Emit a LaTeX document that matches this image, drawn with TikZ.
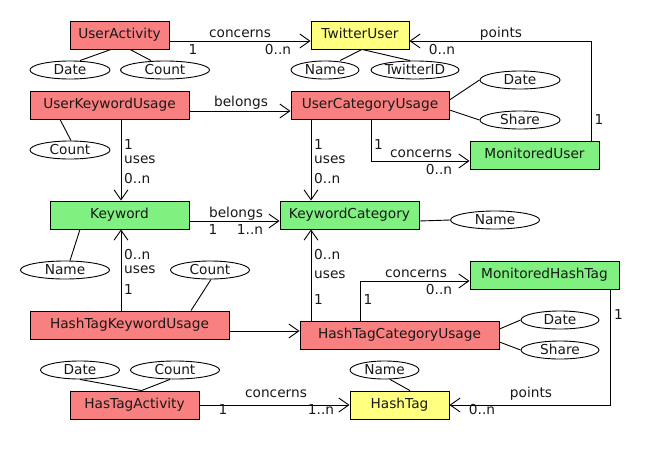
\documentclass[tikz,border=0pt]{standalone}
\usepackage{fontspec}
\setmainfont{DejaVu Sans}
\usetikzlibrary{arrows.meta,shapes.geometric}
\definecolor{entred}{RGB}{248,128,128}
\definecolor{entgreen}{RGB}{128,240,128}
\definecolor{entyellow}{RGB}{255,255,128}
\definecolor{txt}{RGB}{25,25,25}
\tikzset{
  ent/.style={draw=black, line width=0.9pt, rectangle, inner sep=0pt, minimum height=28pt, text height=10pt, text depth=2.5pt, text=txt},
  red/.style={ent, fill=entred},
  grn/.style={ent, fill=entgreen},
  yel/.style={ent, fill=entyellow},
  attr/.style={draw=black, line width=0.9pt, ellipse, inner sep=0pt, minimum height=18pt, text height=9.5pt, text depth=0pt, text=txt},
  lbl/.style={inner sep=0pt, anchor=base, text=txt},
  lblw/.style={inner sep=0pt, anchor=base west, text=txt},
  conn/.style={draw=black, line width=0.9pt, -{Straight Barb[length=10pt,width=14pt,line width=0.9pt]}},
  aline/.style={draw=black, line width=0.9pt}
}
\begin{document}
\begin{tikzpicture}[x=1pt,y=-1pt,font=\fontsize{13.7}{16}\selectfont]
\useasboundingbox (0,0) rectangle (650,450);
\fill[white] (0,0) rectangle (650,450);
% entities
\node[red, minimum width=99pt] (ua) at (119.5,35) {UserActivity};
\node[yel, minimum width=98pt] (tu) at (360,35) {TwitterUser};
\node[red, minimum width=159pt] (uku) at (109.5,105) {UserKeywordUsage};
\node[red, minimum width=158pt] (ucu) at (370,105) {UserCategoryUsage};
\node[grn, minimum width=129pt] (mu) at (534.5,155) {MonitoredUser};
\node[grn, minimum width=139pt] (kw) at (119.5,215) {Keyword};
\node[grn, minimum width=139pt] (kc) at (349.5,215) {KeywordCategory};
\node[grn, minimum width=149pt] (mht) at (544.5,275) {MonitoredHashTag};
\node[red, minimum width=199pt] (htku) at (129.5,325) {HashTagKeywordUsage};
\node[red, minimum width=199pt] (htcu) at (399.5,335) {HashTagCategoryUsage};
\node[red, minimum width=129pt] (hta) at (134.5,405) {HasTagActivity};
\node[yel, minimum width=99pt] (ht) at (399.5,405) {HashTag};
% attributes
\node[attr, minimum width=80pt] (uad) at (70,70) {Date};
\node[attr, minimum width=89pt] (uac) at (165,70) {Count};
\node[attr, minimum width=68pt] (tun) at (325,70) {Name};
\node[attr, minimum width=88pt] (tui) at (415,70) {TwitterID};
\node[attr, minimum width=80pt] (ukuc) at (70,150) {Count};
\node[attr, minimum width=80pt] (ucud) at (520,80) {Date};
\node[attr, minimum width=80pt] (ucus) at (520,120) {Share};
\node[attr, minimum width=89pt] (kwn) at (65,270) {Name};
\node[attr, minimum width=89pt] (kcn) at (495,220) {Name};
\node[attr, minimum width=79pt] (htkuc) at (210,270) {Count};
\node[attr, minimum width=78pt] (htcud) at (560,320) {Date};
\node[attr, minimum width=78pt] (htcus) at (560,350) {Share};
\node[attr, minimum width=79pt] (htad) at (80,370) {Date};
\node[attr, minimum width=89pt] (htac) at (175,370) {Count};
\node[attr, minimum width=69pt] (htn) at (384.5,370) {Name};
% attribute lines
\draw[aline] ([xshift=10pt]uad.north) -- ([xshift=-8.5pt]ua.south);
\draw[aline] ([xshift=-14pt]uac.north) -- ([xshift=10.5pt]ua.south);
\draw[aline] ([xshift=15pt]tun.north) -- ([xshift=2pt]tu.south);
\draw[aline] ([xshift=-5pt]tui.north) -- ([xshift=2pt]tu.south);
\draw[aline] ([xshift=1pt]ukuc.north) -- ([xshift=-49.5pt]uku.south);
\draw[aline] ([yshift=5pt]ucu.east) -- (ucud.west);
\draw[aline] ([yshift=-5pt]ucu.east) -- (ucus.west);
\draw[aline] ([xshift=5pt]kwn.north) -- ([xshift=-39.5pt]kw.south);
\draw[aline] ([yshift=-6pt]kc.east) -- (kcn.west);
\draw[aline] ([xshift=1pt]htkuc.south) -- ([xshift=61.5pt]htku.north);
\draw[aline] ([yshift=6pt]htcu.east) -- (htcud.west);
\draw[aline] ([yshift=-7pt]htcu.east) -- (htcus.west);
\draw[aline] (htad.south) -- ([xshift=7pt]hta.north);
\draw[aline] ([xshift=-5pt]htac.south) -- ([xshift=7pt]hta.north);
\draw[aline] ([xshift=5.5pt]htn.south) -- ([xshift=10.5pt]ht.north);
% relationships
\draw[conn] ([yshift=-6pt]ua.east) -- ([yshift=-6pt]tu.west);
\draw[conn] ([xshift=56.5pt]mu.north) |- ([yshift=-6pt]tu.east);
\draw[conn] ([yshift=-6pt]uku.east) -- ([yshift=-6pt]ucu.west);
\draw[conn] ([xshift=11.5pt]uku.south) -- ([xshift=1.5pt]kw.north);
\draw[conn] ([xshift=-59pt]ucu.south) -- ([xshift=-38.5pt]kc.north);
\draw[conn] ([xshift=1pt]ucu.south) |- ([yshift=-6pt]mu.west);
\draw[conn] ([yshift=-6pt]kw.east) -- ([yshift=-6pt]kc.west);
\draw[conn] ([xshift=-8.5pt]htku.north) -- ([xshift=1.5pt]kw.south);
\draw[conn] ([yshift=-6pt]htku.east) -- ([yshift=4pt]htcu.west);
\draw[conn] ([xshift=-88.5pt]htcu.north) -- ([xshift=-38.5pt]kc.south);
\draw[conn] ([xshift=-39.5pt]htcu.north) |- ([yshift=-6pt]mht.west);
\draw[conn] ([xshift=65.5pt]mht.south) |- (ht.east);
\draw[conn] (hta.east) -- (ht.west);
% labels
\node[lbl] (l1) at (240,37) {concerns};
\node[lbl] (l2) at (193,54) {1};
\node[lbl] (l3) at (278,54) {0..n};
\node[lbl] (l4) at (501,37) {points};
\node[lbl] (l5) at (442,54) {0..n};
\node[lbl] (l6) at (599,124) {1};
\node[lbl] (l7) at (241,106) {belongs};
\node[lblw] (l8) at (124,149) {1};
\node[lblw] (l9) at (124,163) {uses};
\node[lblw] (l10) at (124,183) {0..n};
\node[lblw] (l11) at (314,149) {1};
\node[lblw] (l12) at (314,163) {uses};
\node[lblw] (l13) at (314,183) {0..n};
\node[lbl] (l14) at (378.5,149) {1};
\node[lbl] (l15) at (421,157) {concerns};
\node[lbl] (l16) at (439,174) {0..n};
\node[lbl] (l17) at (236,217) {belongs};
\node[lbl] (l18) at (213,234) {1};
\node[lbl] (l19) at (250,234) {1..n};
\node[lblw] (l20) at (124,259) {0..n};
\node[lblw] (l21) at (124,273) {uses};
\node[lblw] (l22) at (124,294) {1};
\node[lblw] (l23) at (314,259) {0..n};
\node[lblw] (l24) at (314,278) {uses};
\node[lblw] (l25) at (314,304) {1};
\node[lbl] (l26) at (416,277) {concerns};
\node[lbl] (l27) at (368,304) {1};
\node[lbl] (l28) at (439,294) {0..n};
\node[lbl] (l29) at (618.5,319) {1};
\node[lbl] (l30) at (276,397) {concerns};
\node[lbl] (l31) at (223,414) {1};
\node[lbl] (l32) at (321,414) {1..n};
\node[lbl] (l33) at (531,397) {points};
\node[lbl] (l34) at (482,414) {0..n};
\end{tikzpicture}
\end{document}
